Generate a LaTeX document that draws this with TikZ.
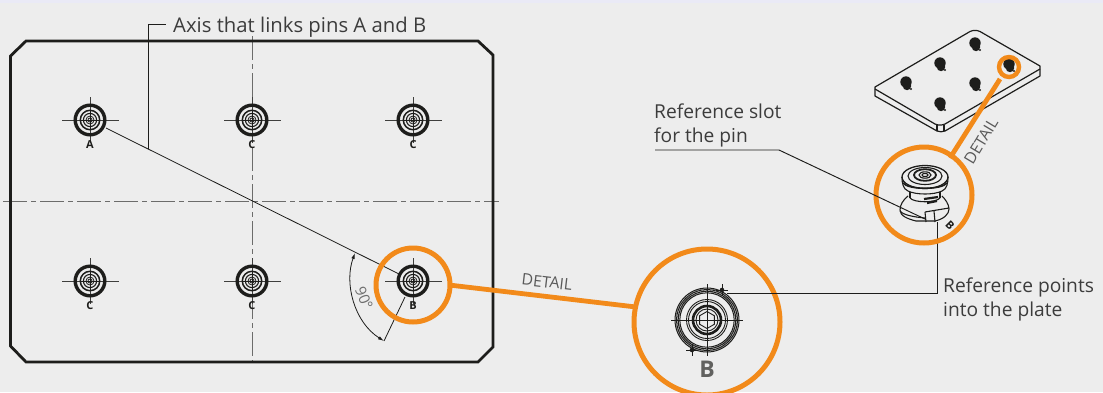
\documentclass[tikz,border=0pt]{standalone}
\usepackage{fontspec}
\setmainfont{Open Sans}
\usetikzlibrary{arrows.meta}
\definecolor{bg}{HTML}{EDEDED}
\definecolor{org}{HTML}{F28A1A}
\definecolor{ink}{HTML}{1D1D1B}
\definecolor{txt}{HTML}{3C3C3C}
\tikzset{
 x=1pt,y=-1pt,
 plate/.style={draw=ink,line width=2.8pt,line join=miter},
 cl/.style={draw=ink!65,line width=.9pt,dash pattern=on 24pt off 4pt on 5pt off 4pt},
 leader/.style={draw=ink,line width=.95pt},
 thin leader/.style={draw=ink,line width=.8pt},
 halo/.style={draw=org,line width=5pt},
 arm/.style={draw=org,line width=4.8pt},
 lab/.style={font=\fontsize{20.3}{23}\selectfont,text=txt,inner sep=0pt},
 lab2/.style={font=\fontsize{19.2}{23}\selectfont,text=txt,inner sep=0pt},
 det/.style={font=\fontsize{15.8}{16}\selectfont,text=txt!85,inner sep=0pt},
 pinlab/.style={font=\bfseries\fontsize{11}{12}\selectfont,text=ink,inner sep=0pt},
 iso/.style={draw=ink,line width=1.2pt,line join=round},
}
\newcommand{\pinmark}[4]{% name, x, y, letter
 \coordinate (#1) at (#2,#3);
 \begin{scope}[shift={(#1)}]
  \draw[ink!85,line width=.8pt] (-28,0) -- (29,0) (0,-23) -- (0,23);
  \draw[ink,line width=3.4pt] (0,0) circle (14.8);
  \draw[ink,line width=1.5pt] (0,0) circle (9.7);
  \draw[ink,line width=1.1pt] (0,0) circle (6.6);
  \draw[ink,line width=.8pt] (0,0) circle (4) (0,0) circle (2);
  \draw[ink,line width=.6pt] (-9,0) -- (9,0) (0,-9) -- (0,9);
 \end{scope}
 \node[pinlab] (#1lab) at (#2,#3+25) {#4};
}
\newcommand{\blob}[2]{\fill[ink] (#1,#2) circle (5.7);\fill[ink] (#1+1,#2+4) circle (4.2);\fill[ink] (#1+5,#2+7) circle (1.2);}
\begin{document}
\begin{tikzpicture}
\useasboundingbox (0,0) rectangle (1103,392);
\fill[bg] (0,0) rectangle (1103,392);
\fill[white!50!bg!95!blue] (0,0) rectangle (1103,3);
% centre lines
\coordinate (hl) at (3,201); \coordinate (hr) at (499,201);
\coordinate (vt) at (252,36); \coordinate (vb) at (252,362);
\draw[cl] (hl) -- (hr);
\draw[cl] (vt) -- (vb);
% plate
\draw[plate] (26,41) -- (478,41) -- (493,55) -- (493,347) -- (478,362) -- (26,362) -- (10.5,346) -- (10.5,56) -- cycle;
% pins
\pinmark{pA}{90}{120}{A}
\pinmark{pC1}{252}{120}{C}
\pinmark{pC2}{413}{120}{C}
\pinmark{pC3}{90}{281}{C}
\pinmark{pC4}{252}{281}{C}
\pinmark{pB}{413}{281}{B}
% axis
\coordinate (axF) at (148,149);
\coordinate (axE) at (148,24);
\coordinate (axT) at (166,24);
\draw[thin leader] (pA) ++(16,8) -- (399,274);
\draw[leader] (axF) -- (axE) -- (axT);
\node[lab,anchor=base west] (axis) at (173,32.5) {Axis that links pins A and B};
% 90 degree
\coordinate (a1) at (355,253);
\coordinate (a2) at (384,341);
\draw[thin leader] (405,297) -- (a2);
\draw[thin leader,{Latex[length=6pt,width=3.5pt]}-{Latex[length=6pt,width=3.5pt]}] (a1) .. controls (344,283) and (354,322) .. (a2);
\node[font=\fontsize{15}{17}\selectfont,text=txt!75,rotate=-68,inner sep=0pt] (deg) at (364,298) {90°};
% halo and detail
\coordinate (hb) at (413,285);
\draw[halo] (hb) circle (37);
\coordinate (dc) at (707,322);
\draw[arm] (449,285) -- (636,307);
\node[det,rotate=-6.7,inner sep=0pt] (d1) at (547,282) {DETAIL};
\draw[halo] (dc) circle (73);
% enlarged pin
\coordinate (big) at (707,320);
\begin{scope}[shift={(big)}]
 \draw[ink,line width=.8pt] (-36,0) -- (36,0) (0,-36) -- (0,36);
 \draw[ink,line width=1pt] (0,0) circle (32) (0,0) circle (30.4) (0,0) circle (28.8) (0,0) circle (27.2);
 \draw[ink,line width=.9pt] (0,0) circle (20.5) (0,0) circle (18.5);
 \draw[ink,line width=2.6pt] (0,0) circle (14);
 \draw[ink,line width=.9pt] (0,0) circle (11);
 \draw[ink,line width=.9pt] (30:8.5) -- (90:8.5) -- (150:8.5) -- (210:8.5) -- (270:8.5) -- (330:8.5) -- cycle;
 \draw[ink,line width=.5pt] (-5,0) -- (5,0) (0,-5) -- (0,5);
 \fill[ink] (15,-30) circle (2.3);
 \draw[ink,line width=.6pt] (15,-36) -- (15,-24) (9,-30) -- (21,-30);
 \fill[ink] (-15,30) circle (2.3);
 \draw[ink,line width=.6pt] (-15,24) -- (-15,36) (-21,30) -- (-9,30);
\end{scope}
\node[font=\bfseries\fontsize{23}{24}\selectfont,text=ink!70,inner sep=0pt] (bigB) at (707,369) {B};
\coordinate (refE) at (937,293);
\coordinate (refS) at (727,293);
\coordinate (refT) at (937,222);
\draw[leader] (refS) -- (refE) -- (refT);
\node[lab2,anchor=base west] (ref1) at (943,292) {Reference points};
\node[lab2,anchor=base west] (ref2) at (943,316) {into the plate};
% isometric plate
\draw[iso] (875,87) -- (970,31.5) .. controls (973,30) and (977,30) .. (980,31.5) -- (1040,66) -- (1040,76) -- (945,131) .. controls (942,132) and (940,132) .. (937,131) -- (875,96) -- cycle;
\draw[iso] (875,89) -- (935,124) .. controls (939,125.5) and (941,125.5) .. (945,124) -- (1040,69);
\draw[iso] (937,124.5) -- (937,131) (944,124.5) -- (944,131);
\blob{906}{82} \blob{940}{63} \blob{975}{43} \blob{975}{83} \blob{940}{103} \blob{1009}{64}
\coordinate (sm) at (1009,67);
\coordinate (chalo) at (924,195);
\draw[arm] (1000,79) -- (950,158);
\draw[draw=org,line width=4.4pt] (sm) circle (10);
\node[det,rotate=59,inner sep=0pt] (d2) at (981,141) {DETAIL};
\draw[halo] (chalo) circle (48);
% pin part
\begin{scope}[ink,line width=1.1pt]
 \draw[line width=1.3pt] (925,177) ellipse (23 and 11.5);
 \draw (902,177) .. controls (902,183) and (903,189) .. (908,191) .. controls (916,195) and (934,195) .. (942,191) .. controls (947,189) and (948,183) .. (948,177);
 \draw[line width=1.6pt] (903,183) .. controls (908,190) and (942,190) .. (947,183);
 \draw (925,176) ellipse (17 and 8.5);
 \draw[line width=1.8pt] (925,175) ellipse (11 and 5.8);
 \draw (925,175) ellipse (6 and 3.2);
 \draw (925,175) ellipse (3 and 1.6);
 \draw (910,192) -- (910,198) (940,192) -- (940,198);
 \draw (910,198) .. controls (914,203) and (936,203) .. (940,198);
 \draw (908,196) .. controls (903,200) and (900,205) .. (900,210) .. controls (900,216) and (908,219) .. (916,221) -- (935,221) .. controls (944,219) and (949,214) .. (949,209) .. controls (949,204) and (945,199) .. (942,196);
 \draw[line width=2.2pt] (924,199) -- (938,197) (927,203) -- (937,201);
 \draw (900,211) .. controls (903,215) and (914,217) .. (925,218);
 \draw (925,212) -- (926,222) (934,211) -- (935,222) (925,212) -- (949,208);
\end{scope}
\node[pinlab,rotate=-45,font=\bfseries\fontsize{11}{12}\selectfont] (pb) at (950,225) {B};
\coordinate (slotE) at (925,219);
\coordinate (slotM) at (779,150);
\coordinate (slotS) at (655,150);
\draw[leader] (slotS) -- (slotM) -- (slotE);
\node[lab2,anchor=base west] (slot1) at (654,118.5) {Reference slot};
\node[lab2,anchor=base west] (slot2) at (654,142.5) {for the pin};
\end{tikzpicture}
\end{document}
